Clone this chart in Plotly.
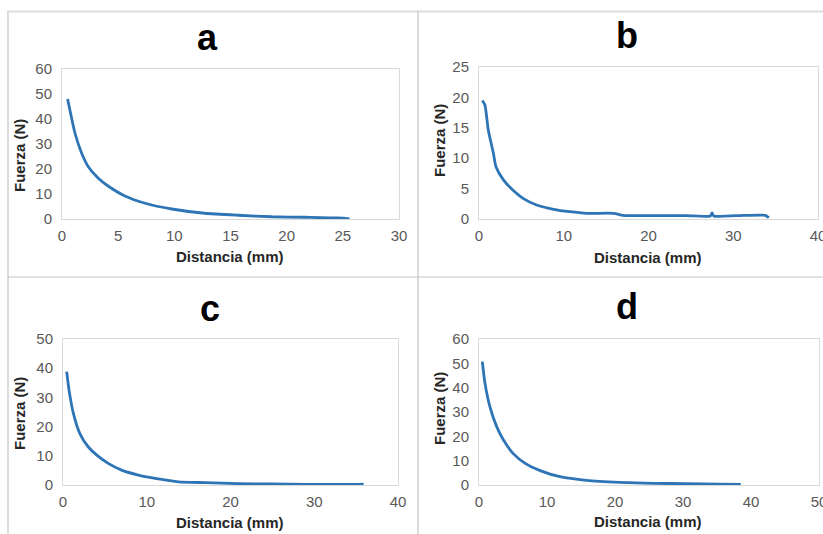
import plotly.graph_objects as go

W, H = 823, 534

# ---- data ----
panel_labels = ["a", "b", "c", "d"]

dist_a = [0.5, 1.16, 1.75, 2.34, 3.23, 4.1, 5.6, 7.4, 9.76, 12.7, 15.7, 18.7, 21.6, 24.6, 25.6]
force_a = [48.0, 34.3, 26.3, 20.9, 16.3, 13.2, 9.2, 6.3, 4.0, 2.3, 1.5, 0.9, 0.7, 0.4, 0.0]

dist_b = [0.39, 0.7, 1.1, 1.7, 2.0, 2.9, 4.05, 5.2, 6.8, 8.8, 10.7, 12.7, 15.9, 17.0, 20.6, 24.5,
          27.3, 27.5, 27.7, 30.4, 33.8, 34.2]
force_b = [19.5, 18.75, 14.6, 10.8, 8.6, 6.4, 4.7, 3.4, 2.3, 1.6, 1.2, 0.93, 0.93, 0.6, 0.55, 0.55,
           0.5, 1.0, 0.5, 0.55, 0.6, 0.2]

dist_c = [0.44, 0.72, 1.24, 2.0, 3.0, 4.0, 5.4, 7.0, 9.0, 11.0, 13.8, 17.0, 21.0, 24.9, 28.9, 34.9, 35.9]
force_c = [38.8, 32.5, 24.5, 17.7, 13.1, 10.3, 7.4, 5.1, 3.4, 2.3, 1.1, 0.8, 0.46, 0.34, 0.23, 0.23, 0.3]

dist_d = [0.49, 0.88, 1.6, 2.6, 3.6, 5.0, 6.8, 9.0, 11.9, 15.8, 20.7, 25.6, 30.5, 35.4, 38.5]
force_d = [50.7, 41.8, 32.2, 24.0, 18.5, 13.0, 8.9, 5.9, 3.4, 1.9, 1.1, 0.7, 0.55, 0.4, 0.27]

x_ranges = [[0, 30], [0, 40], [0, 40], [0, 50]]
x_dticks = [5, 10, 10, 10]
y_ranges = [[0, 60], [0, 25], [0, 50], [0, 60]]
y_dticks = [10, 5, 10, 10]

x_title = "Distancia (mm)"
y_title = "Fuerza (N)"

series = [(dist_a, force_a), (dist_b, force_b), (dist_c, force_c), (dist_d, force_d)]

# ---- layout geometry (pixels) ----
plot_boxes = [  # left, right, top, bottom
    (62, 399, 69, 219),
    (479, 818, 67, 219),
    (63, 398, 339, 485),
    (479, 819, 339, 485),
]
title_pos = [(207, 37), (627, 36), (210, 308), (627, 306)]
xtitle_pos = [(230, 256), (648, 257), (230, 522), (648, 521)]
ytitle_pos = [(19, 156), (439, 141), (19, 414), (439, 409)]

FONT = "Liberation Sans, Arial, sans-serif"
LINE = "#2E75B6"

fig = go.Figure()
layout = dict(
    width=W, height=H, margin=dict(l=0, r=0, t=0, b=0, pad=0, autoexpand=False),
    paper_bgcolor="white", plot_bgcolor="white", showlegend=False,
    font=dict(family=FONT),
)
annotations = []
for i, ((xs, ys), (l, r, t, b)) in enumerate(zip(series, plot_boxes)):
    n = "" if i == 0 else str(i + 1)
    fig.add_trace(go.Scatter(
        x=xs, y=ys, mode="lines", xaxis="x" + n, yaxis="y" + n,
        line=dict(color=LINE, width=2.8, shape="spline", smoothing=0.6),
        hoverinfo="skip",
    ))
    layout["xaxis" + n] = dict(
        domain=[l / W, r / W], anchor="y" + n, range=x_ranges[i], dtick=x_dticks[i],
        showgrid=False, zeroline=False, showline=True, mirror=True, automargin=False,
        linecolor="#d9d9d9", linewidth=1, ticks="", ticklabelstandoff=3,
        ticklabeloverflow="allow",
        tickfont=dict(size=15, color="#595959", family=FONT), fixedrange=True,
    )
    layout["yaxis" + n] = dict(
        domain=[1 - b / H, 1 - t / H], anchor="x" + n, range=y_ranges[i], dtick=y_dticks[i],
        showgrid=False, zeroline=False, showline=True, mirror=True, automargin=False,
        linecolor="#d9d9d9", linewidth=1, ticks="", ticklabelstandoff=6,
        ticklabeloverflow="allow",
        tickfont=dict(size=15, color="#595959", family=FONT), fixedrange=True,
    )
    tx, ty = title_pos[i]
    annotations.append(dict(
        text="<b>%s</b>" % panel_labels[i], x=tx / W, y=1 - ty / H, xref="paper", yref="paper",
        showarrow=False, xanchor="center", yanchor="middle",
        font=dict(size=36, color="black", family=FONT),
    ))
    ax_, ay_ = xtitle_pos[i]
    annotations.append(dict(
        text="<b>%s</b>" % x_title, x=ax_ / W, y=1 - ay_ / H, xref="paper", yref="paper",
        showarrow=False, xanchor="center", yanchor="middle",
        font=dict(size=15, color="#262626", family=FONT),
    ))
    yx, yy = ytitle_pos[i]
    annotations.append(dict(
        text="<b>%s</b>" % y_title, x=yx / W, y=1 - yy / H, xref="paper", yref="paper",
        showarrow=False, xanchor="center", yanchor="middle", textangle=-90,
        font=dict(size=15, color="#262626", family=FONT),
    ))
layout["annotations"] = annotations

# frame lines around / between the four charts
def pline(x0, y0, x1, y1, color, width):
    return dict(type="line", xref="paper", yref="paper",
                x0=x0 / W, y0=1 - y0 / H, x1=x1 / W, y1=1 - y1 / H,
                line=dict(color=color, width=width))

layout["shapes"] = [
    pline(7, 11.5, W, 11.5, "#dcdcdc", 2),
    pline(8, 11, 8, H, "#dcdcdc", 2),
    pline(418, 11, 418, H, "#c4c4c4", 1.2),
    pline(8, 277, W, 277, "#c4c4c4", 1.2),
]
fig.update_layout(**layout)
fig.write_html(
    "out.html",
    config={"displayModeBar": False},
    post_script="document.body.style.margin='0';document.body.style.overflow='hidden';",
)
